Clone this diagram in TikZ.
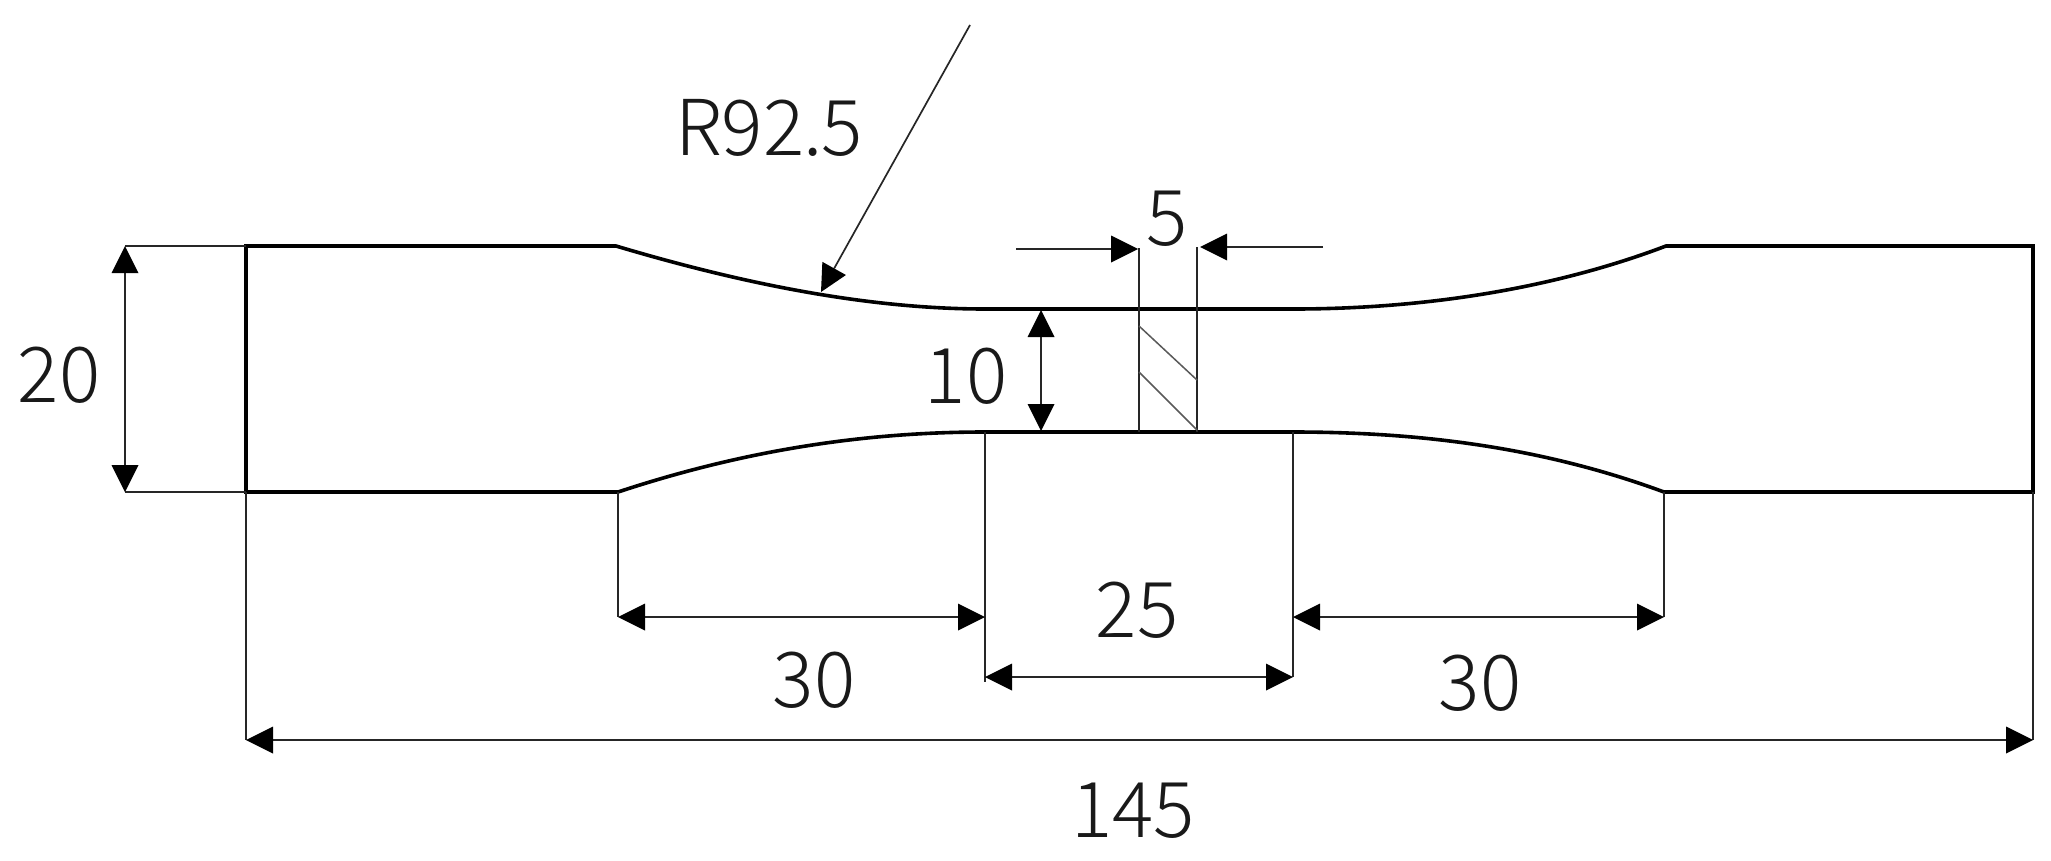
\documentclass[tikz,border=0pt]{standalone}
\usepackage{fontspec}
\setmainfont{Noto Sans CJK SC Light}
\usetikzlibrary{arrows.meta}
\tikzset{
  outline/.style={line width=3.6pt,black,line cap=round},
  thinline/.style={line width=1.9pt,black!85},
  hatchline/.style={line width=1.5pt,black!65},
  tipblack/.tip={Triangle[length=27pt,width=27pt,fill=black,line width=0pt]},
  dim/.style={line width=2pt,black!85,{tipblack}-{tipblack}},
  leader/.style={line width=1.7pt,black!85,-{tipblack}},
  lab/.style={anchor=base,inner sep=0pt,font=\fontsize{77}{82}\selectfont,text=black!90}
}
\begin{document}
\begin{tikzpicture}[x=1pt,y=-1pt]
\useasboundingbox (0,0) rectangle (2051,860);
\fill[white] (0,0) rectangle (2051,860);
% key points
\coordinate (TL) at (246,246);
\coordinate (BL) at (246,492);
\coordinate (TS1) at (616,246);
\coordinate (BS1) at (618,492);
\coordinate (TW1) at (985,309);
\coordinate (TW2) at (1293,309);
\coordinate (BW1) at (985,432);
\coordinate (BW2) at (1293,432);
\coordinate (TS2) at (1666,246);
\coordinate (BS2) at (1664,492);
\coordinate (TR) at (2033,246);
\coordinate (BR) at (2033,492);
% specimen outline
\draw[outline] (TL) -- (TS1) .. controls (730,280) and (860,309) .. (TW1) -- (TW2)
  .. controls (1420,309) and (1550,290) .. (TS2) -- (TR) -- (BR) -- (BS2)
  .. controls (1550,450) and (1430,432) .. (BW2) -- (BW1)
  .. controls (850,432) and (730,455) .. (BS1) -- (BL) -- cycle;
% section lines
\coordinate (S1t) at (1139,248);
\coordinate (S1b) at (1139,432);
\coordinate (S2t) at (1197,247);
\coordinate (S2b) at (1197,432);
\draw[thinline] (S1t) -- (S1b);
\draw[thinline] (S2t) -- (S2b);
\coordinate (H1a) at (1139,326);
\coordinate (H1b) at (1197,380);
\coordinate (H2a) at (1139,372);
\coordinate (H2b) at (1197,430);
\draw[hatchline] (H1a) -- (H1b);
\draw[hatchline] (H2a) -- (H2b);
% extension lines
\coordinate (E20a) at (125,246);
\coordinate (E20b) at (125,492);
\draw[thinline] (E20a) -- (TL);
\draw[thinline] (E20b) -- (BL);
\coordinate (ELb) at (246,740);
\coordinate (ERb) at (2033,740);
\draw[thinline] (BL) -- (ELb);
\draw[thinline] (BR) -- (ERb);
\coordinate (E1) at (618,617);
\coordinate (E2) at (985,682);
\coordinate (E3) at (1293,677);
\coordinate (E4) at (1664,617);
\draw[thinline] (BS1) -- (E1);
\draw[thinline] (BW1) -- (E2);
\draw[thinline] (BW2) -- (E3);
\draw[thinline] (BS2) -- (E4);
% dimensions
\draw[dim] (E20a) -- (E20b);
\coordinate (D10a) at (1041,310);
\coordinate (D10b) at (1041,431);
\draw[dim] (D10a) -- (D10b);
\coordinate (D30b) at (985,617);
\coordinate (D30c) at (1293,617);
\draw[dim] (E1) -- (D30b);
\draw[dim] (D30c) -- (E4);
\coordinate (D25a) at (985,677);
\draw[dim] (D25a) -- (E3);
\draw[dim] (ELb) -- (ERb);
\coordinate (A5a) at (1016,249);
\coordinate (A5b) at (1138,249);
\coordinate (A5c) at (1323,247);
\coordinate (A5d) at (1200,247);
\draw[leader,line width=2pt] (A5a) -- (A5b);
\draw[leader,line width=2pt] (A5c) -- (A5d);
\coordinate (Ra) at (970,25);
\coordinate (Rb) at (821,292);
\draw[leader] (Ra) -- (Rb);
% labels
\node[lab] (lR) at (769,155) {R92\kern-1pt.\kern-1pt5};
\node[lab] (l20) at (59,402) {20};
\node[lab] (l10) at (966,403) {10};
\node[lab] (l5) at (1167,245) {5};
\node[lab] (l25) at (1137,637) {25};
\node[lab] (l30a) at (814,707) {30};
\node[lab] (l30b) at (1480,710) {30};
\node[lab] (l145) at (1133,837) {145};
\end{tikzpicture}
\end{document}
